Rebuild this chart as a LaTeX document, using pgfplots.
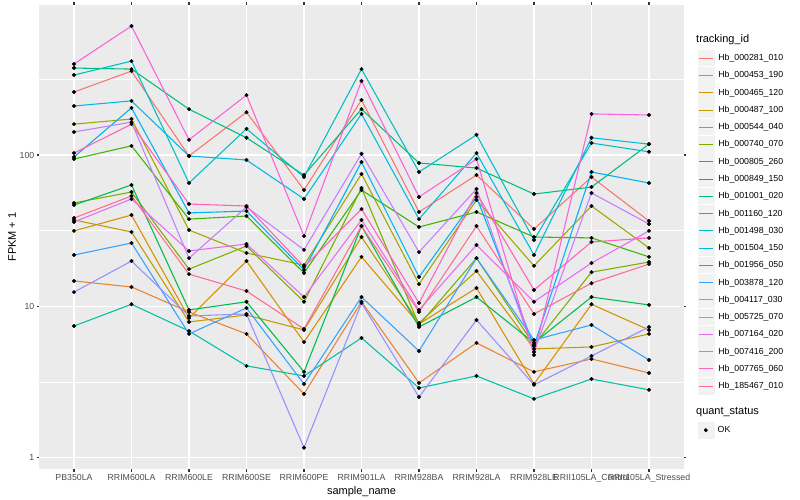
\documentclass[border=0pt]{standalone}
\usepackage{fontspec}
\setmainfont{Liberation Sans}
\usepackage{pgfplots}
\usepackage{pgfplotstable}
\pgfplotsset{compat=1.18}

% ggplot hue palette, 20 levels
\definecolor{c1}{HTML}{F8766D}
\definecolor{c2}{HTML}{EA8331}
\definecolor{c3}{HTML}{D89000}
\definecolor{c4}{HTML}{C09B00}
\definecolor{c5}{HTML}{A3A500}
\definecolor{c6}{HTML}{7CAE00}
\definecolor{c7}{HTML}{39B600}
\definecolor{c8}{HTML}{00BB4E}
\definecolor{c9}{HTML}{00BF7D}
\definecolor{c10}{HTML}{00C1A3}
\definecolor{c11}{HTML}{00BFC4}
\definecolor{c12}{HTML}{00BAE0}
\definecolor{c13}{HTML}{00B0F6}
\definecolor{c14}{HTML}{35A2FF}
\definecolor{c15}{HTML}{9590FF}
\definecolor{c16}{HTML}{C77CFF}
\definecolor{c17}{HTML}{E76BF3}
\definecolor{c18}{HTML}{FA62DB}
\definecolor{c19}{HTML}{FF62BC}
\definecolor{c20}{HTML}{FF6C91}
\definecolor{panelbg}{HTML}{EBEBEB}
\definecolor{keybg}{HTML}{F2F2F2}
\definecolor{gray30}{HTML}{4D4D4D}
\definecolor{gray20}{HTML}{333333}

% FPKM + 1, one row per sample, one column per tracking_id
\pgfplotstableread{
x  s1   s2   s3   s4   s5   s6   s7   s8   s9   s10  s11  s12  s13  s14  s15  s16  s17  s18  s19  s20
0  261  14.7 31.5 37.2 160  48.2 94.1 46.7 376  7.40 338  211  97.0 21.8 12.4 142  36.1 400  103  38.3
1  359  13.4 40.1 31.0 173  56.9 115  63.4 370  10.3 418  228  205  26.2 19.9 165  51.2 713  160  53.6
2  98.5 9.16 8.36 7.87 31.9 17.6 37.7 9.45 201  6.86 65.3 98.5 41.4 6.56 8.62 20.8 23.2 126  47.4 16.3
3  192  6.56 19.9 8.75 22.5 25.0 39.5 10.7 130  4.03 149  92.7 42.6 9.74 8.89 45.3 25.8 249  46.0 12.6
4  58.7 2.63 5.80 6.97 18.7 10.7 16.6 3.68 73.7 3.46 71.5 51.2 17.4 3.06 1.16 23.6 11.5 29.1 18.2 7.07
5  231  10.7 21.2 28.7 74.9 60.5 58.7 33.9 201  6.17 370  187  89.9 11.5 10.5 102  37.2 309  43.9 33.9
6  42.0 3.11 7.63 7.75 14.0 7.52 33.4 7.29 88.6 2.88 77.2 37.7 15.6 5.06 2.51 22.8 9.45 52.8 10.5 9.16
7  73.7 5.72 13.2 17.1 50.4 20.8 42.0 11.5 82.0 3.46 136  103  52.8 20.8 8.11 59.6 25.4 94.1 56.1 33.9
8  32.4 3.68 3.06 5.22 18.5 5.54 28.7 5.72 55.2 2.44 27.4 21.8 5.46 5.98 3.02 4.98 10.7 4.76 12.8 8.89
9  71.5 4.48 10.3 5.38 46.0 16.8 28.3 11.5 61.4 3.30 120  130  77.2 7.52 4.69 56.1 19.3 187  26.6 14.2
10 36.6 3.62 6.97 6.56 24.3 19.6 21.2 10.2 118  2.80 105  118  65.3 4.41 7.29 35.0 31.5 184  28.3 19.0
}\fpkm

\pgfplotsset{
  gglegend/.style={
    legend style={draw=none, fill=none, inner sep=0pt, outer sep=0pt,
      row sep=-1.09bp, font=\fontsize{8.8}{10}\selectfont,
      cells={anchor=west}, nodes={inner sep=0pt},
      /tikz/every odd column/.style={column sep=3bp}},
  },
}

\begin{document}
\begin{tikzpicture}
\path[use as bounding box, fill=white] (0bp,0bp) rectangle (800bp,500bp);

\begin{axis}[
  at={(39.5bp,31bp)}, anchor=south west,
  scale only axis, width=644bp, height=464bp,
  xmin=-0.6, xmax=10.6,
  ymode=log, ymin=0.8386, ymax=982,
  axis background/.style={fill=panelbg},
  axis line style={draw=none},
  xtick={0,1,2,3,4,5,6,7,8,9,10},
  xticklabels={PB350LA, RRIM600LA, RRIM600LE, RRIM600SE, RRIM600PE, RRIM901LA,
    RRIM928BA, RRIM928LA, RRIM928LE, RRII105LA\_Control, RRII105LA\_Stressed},
  ytick={1,10,100}, yticklabels={1,10,100},
  minor ytick={3.1623,31.623,316.23},
  xmajorgrids, ymajorgrids, yminorgrids,
  major grid style={white, line width=1.07bp},
  minor grid style={white, line width=0.53bp},
  tick align=outside,
  major tick length=2.75bp, minor tick length=0bp,
  tick style={gray20, line width=1.07bp},
  ticklabel style={font=\fontsize{8.8}{10}\selectfont, text=gray30},
  xticklabel style={inner sep=0pt, yshift=-2.2bp},
  yticklabel style={inner sep=0pt, xshift=-2.2bp},
  xlabel={sample\_name}, ylabel={FPKM + 1},
  label style={font=\fontsize{11}{13}\selectfont},
  xlabel style={at={(axis description cs:0.5,-0.0496)}, anchor=center, inner sep=0pt},
  ylabel style={at={(axis description cs:-0.0427,0.5)}, anchor=center, inner sep=0pt},
  gglegend,
  legend style={at={(1.021,0.905)}, anchor=north west},
  legend image code/.code={
    \fill[white] (0bp,-8.64bp) rectangle (17.28bp,8.64bp);
    \fill[keybg] (0.535bp,-8.105bp) rectangle (16.745bp,8.105bp);
    \draw[#1] (1.73bp,0bp) -- (15.55bp,0bp);
  },
  legend entries={Hb\_000281\_010, Hb\_000453\_190, Hb\_000465\_120, Hb\_000487\_100,
    Hb\_000544\_040, Hb\_000740\_070, Hb\_000805\_260, Hb\_000849\_150,
    Hb\_001001\_020, Hb\_001160\_120, Hb\_001498\_030, Hb\_001504\_150,
    Hb\_001956\_050, Hb\_003878\_120, Hb\_004117\_030, Hb\_005725\_070,
    Hb\_007164\_020, Hb\_007416\_200, Hb\_007765\_060, Hb\_185467\_010},
]
\pgfplotsinvokeforeach{1,...,20}{
  \addplot[c#1, line width=1.07bp, no marks] table[x=x, y=s#1] {\fpkm};
}
\pgfplotsinvokeforeach{1,...,20}{
  \addplot[forget plot, only marks, mark=*, mark size=1.8bp, black] table[x=x, y=s#1] {\fpkm};
}
\end{axis}

% second legend: quant_status
\begin{axis}[
  at={(0bp,0bp)}, anchor=south west,
  scale only axis, width=800bp, height=500bp,
  xmin=0, xmax=800, ymin=0, ymax=500, hide axis,
  gglegend,
  legend style={at={(axis cs:697,78.64)}, anchor=north west},
  legend image code/.code={
    \fill[white] (0bp,-8.64bp) rectangle (17.28bp,8.64bp);
    \fill[keybg] (0.535bp,-8.105bp) rectangle (16.745bp,8.105bp);
    \draw[#1] plot coordinates {(8.64bp,0bp)};
  },
]
\addlegendimage{only marks, mark=*, mark size=1.8bp, black}
\addlegendentry{OK}
\end{axis}

\node[anchor=west, inner sep=0pt, font=\fontsize{11}{13}\selectfont] at (696bp,460bp) {tracking\_id};
\node[anchor=west, inner sep=0pt, font=\fontsize{11}{13}\selectfont] at (696bp,88bp) {quant\_status};
\end{tikzpicture}
\end{document}
